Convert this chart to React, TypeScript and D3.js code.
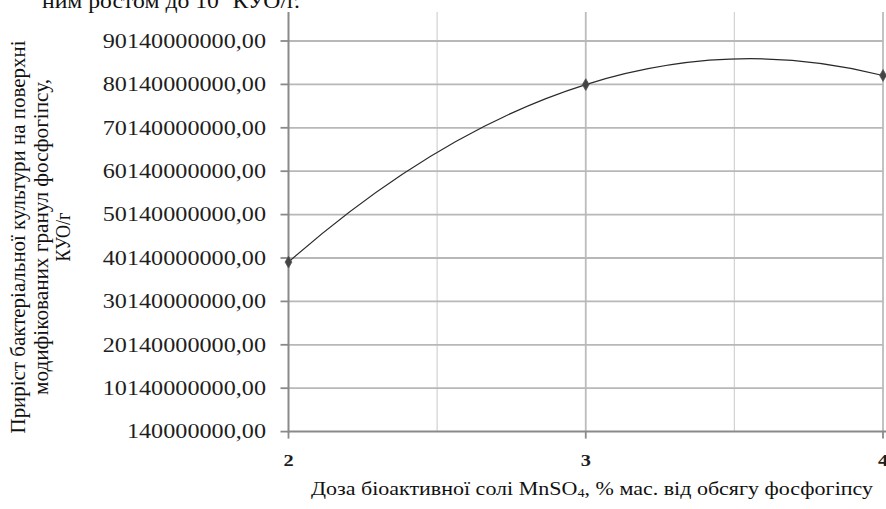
import React from "react";
import * as d3 from "d3";

// ---- data ----
const doses = [2, 3, 4];
const growth = [39.2e9, 80.1e9, 82.2e9];
const yTickValues = [
  140000000, 10140000000, 20140000000, 30140000000, 40140000000,
  50140000000, 60140000000, 70140000000, 80140000000, 90140000000,
];
const yTickLabels = [
  "140000000,00", "10140000000,00", "20140000000,00", "30140000000,00", "40140000000,00",
  "50140000000,00", "60140000000,00", "70140000000,00", "80140000000,00", "90140000000,00",
];
const xMajorTicks = [2, 3, 4];
const xMajorLabels = ["2", "3", "4"];
const xMinorTicks = [2.5, 3.5];
const yTitleLines = [
  "Приріст бактеріальної культури на поверхні",
  "модифікованих гранул фосфогіпсу,",
  "КУО/г",
];
const xTitle = "Доза біоактивної солі MnSO";
const xTitleSub = "4";
const xTitleRest = ", % мас. від обсягу фосфогіпсу";
const topTextA = "ним ростом до 10";
const topTextSup = "8";
const topTextB = " КУО/г.";

// ---- layout ----
const W = 886;
const H = 509;
const plotLeft = 288.5;
const plotRight = 883;
const plotTop = 12;
const plotBottom = 431.6;
const FONT = "'Liberation Serif', 'Times New Roman', serif";

// Excel-like smoothing curve (Hermite with quadratic end conditions)
function curveExcelSmooth(context: any) {
  let pts: number[][] = [];
  return {
    areaStart() {},
    areaEnd() {},
    lineStart() {
      pts = [];
    },
    lineEnd() {
      const n = pts.length;
      if (!n) return;
      context.moveTo(pts[0][0], pts[0][1]);
      if (n === 1) return;
      if (n === 2) {
        context.lineTo(pts[1][0], pts[1][1]);
        return;
      }
      const m: number[][] = pts.map((p, i) =>
        i > 0 && i < n - 1
          ? [(pts[i + 1][0] - pts[i - 1][0]) / 2, (pts[i + 1][1] - pts[i - 1][1]) / 2]
          : [0, 0]
      );
      m[0] = [
        2 * (pts[1][0] - pts[0][0]) - m[1][0],
        2 * (pts[1][1] - pts[0][1]) - m[1][1],
      ];
      m[n - 1] = [
        2 * (pts[n - 1][0] - pts[n - 2][0]) - m[n - 2][0],
        2 * (pts[n - 1][1] - pts[n - 2][1]) - m[n - 2][1],
      ];
      for (let i = 0; i < n - 1; i++) {
        context.bezierCurveTo(
          pts[i][0] + m[i][0] / 3,
          pts[i][1] + m[i][1] / 3,
          pts[i + 1][0] - m[i + 1][0] / 3,
          pts[i + 1][1] - m[i + 1][1] / 3,
          pts[i + 1][0],
          pts[i + 1][1]
        );
      }
    },
    point(x: number, y: number) {
      pts.push([+x, +y]);
    },
  };
}

export default function App() {
  const x = d3.scaleLinear().domain([2, 4]).range([plotLeft, plotRight]);
  const y = d3
    .scaleLinear()
    .domain([yTickValues[0], yTickValues[yTickValues.length - 1]])
    .range([plotBottom, 41]);

  const data = doses.map((d, i) => ({ d, v: growth[i] }));
  const line = d3
    .line<{ d: number; v: number }>()
    .x((p) => x(p.d))
    .y((p) => y(p.v))
    .curve(curveExcelSmooth as any);

  const diamond = d3.symbol().type(d3.symbolDiamond).size(40)();

  return (
    <svg
      width={W}
      height={H}
      style={{ position: "absolute", left: 0, top: 0, background: "#fff" }}
      fontFamily={FONT}
    >
      <rect width={W} height={H} fill="#fff" />

      {/* top cropped text */}
      <text
        x={42}
        y={8}
        fontSize={22}
        fill="#111"
        textLength={258}
        lengthAdjust="spacingAndGlyphs"
      >
        {topTextA}
        <tspan dy={-10} fontSize={14}>{topTextSup}</tspan>
        <tspan dy={10}>{topTextB}</tspan>
      </text>

      {/* minor vertical gridlines */}
      {xMinorTicks.map((t) => (
        <line
          key={"mv" + t}
          x1={x(t)}
          x2={x(t)}
          y1={plotTop}
          y2={plotBottom}
          stroke="#d2d2d2"
          strokeWidth={1.2}
        />
      ))}
      {/* major vertical gridlines */}
      {xMajorTicks.slice(1).map((t) => (
        <line
          key={"v" + t}
          x1={x(t)}
          x2={x(t)}
          y1={plotTop}
          y2={plotBottom}
          stroke="#bcbcbc"
          strokeWidth={1.8}
        />
      ))}
      {/* horizontal gridlines */}
      {yTickValues.slice(1).map((t) => (
        <line
          key={"h" + t}
          x1={plotLeft}
          x2={plotRight}
          y1={y(t)}
          y2={y(t)}
          stroke="#b8b8b8"
          strokeWidth={1.8}
        />
      ))}

      {/* axes */}
      <line x1={plotLeft} x2={plotLeft} y1={plotTop} y2={plotBottom + 1} stroke="#8a8a8a" strokeWidth={2} />
      <line x1={plotLeft} x2={W} y1={plotBottom} y2={plotBottom} stroke="#8a8a8a" strokeWidth={2} />

      {/* y ticks + labels */}
      {yTickValues.map((t, i) => (
        <g key={"yt" + t}>
          <line x1={plotLeft - 8} x2={plotLeft} y1={y(t)} y2={y(t)} stroke="#8a8a8a" strokeWidth={1.8} />
          <text
            transform={`translate(266,${y(t) + 6.7}) scale(1.21,1)`}
            textAnchor="end"
            fontSize={20}
            fill="#1e1e1e"
          >
            {yTickLabels[i]}
          </text>
        </g>
      ))}

      {/* x ticks + labels */}
      {xMajorTicks.map((t, i) => (
        <g key={"xt" + t}>
          <line x1={x(t)} x2={x(t)} y1={plotBottom} y2={plotBottom + 7} stroke="#8a8a8a" strokeWidth={1.8} />
          <text
            transform={`translate(${x(t)},466) scale(1.2,1)`}
            textAnchor="middle"
            fontSize={17}
            fontWeight="bold"
            fill="#1e1e1e"
          >
            {xMajorLabels[i]}
          </text>
        </g>
      ))}

      {/* series line */}
      <path d={line(data) || ""} fill="none" stroke="#2a2a2a" strokeWidth={1.2} />
      {data.map((p) => (
        <path
          key={"m" + p.d}
          d={diamond || ""}
          transform={`translate(${x(p.d)},${y(p.v)})`}
          fill="#444"
          stroke="#555"
          strokeWidth={0.8}
        />
      ))}

      {/* x title */}
      <text
        x={311}
        y={495}
        fontSize={18.5}
        fill="#111"
        textLength={562}
        lengthAdjust="spacingAndGlyphs"
      >
        {xTitle}
        <tspan fontSize={12} dy={2}>{xTitleSub}</tspan>
        <tspan dy={-2}>{xTitleRest}</tspan>
      </text>

      {/* y title */}
      {yTitleLines.map((s, i) => (
        <text
          key={"yl" + i}
          transform={`translate(${[25, 48, 70][i]},237) scale(1.15,1) rotate(-90)`}
          textAnchor="middle"
          fontSize={18}
          fill="#111"
          {...(i < 2 ? { textLength: [393, 316][i], lengthAdjust: "spacingAndGlyphs" } : {})}
        >
          {s}
        </text>
      ))}
    </svg>
  );
}
